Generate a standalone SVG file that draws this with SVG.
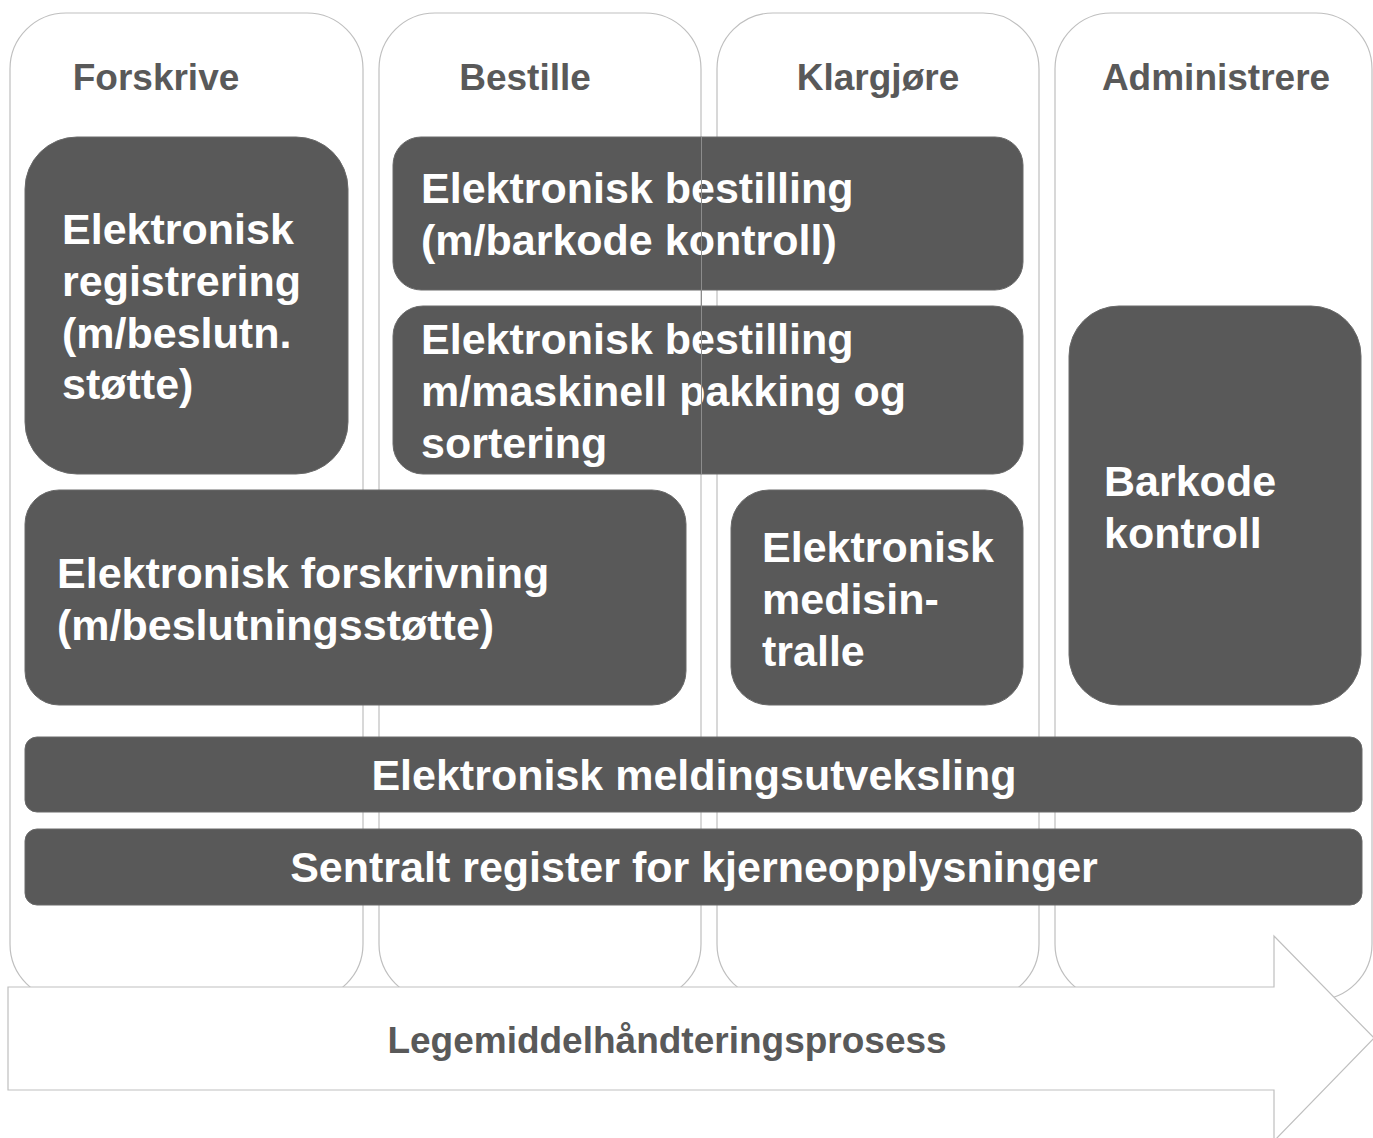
<svg xmlns="http://www.w3.org/2000/svg" width="1373" height="1138" viewBox="0 0 1373 1138">
<style>
.col{fill:#ffffff;stroke:#bfbfbf;stroke-width:1.2}
.box{fill:#595959;stroke:#6a6a6a;stroke-width:1}
.hd{font-family:"Liberation Sans",Arial,sans-serif;font-weight:bold;font-size:37px;fill:#595959}
.bt{font-family:"Liberation Sans",Arial,sans-serif;font-weight:bold;font-size:43px;fill:#ffffff}
.ar{fill:#ffffff;stroke:#bfbfbf;stroke-width:1.2}
</style>
<rect width="1373" height="1138" fill="#ffffff"/>
<g id="columns">
  <g id="col-forskrive"><rect class="col" x="10" y="13" width="353" height="987" rx="56"/><text class="hd" x="156" y="90" text-anchor="middle">Forskrive</text></g>
  <g id="col-bestille"><rect class="col" x="379" y="13" width="322" height="987" rx="56"/><text class="hd" x="525" y="90" text-anchor="middle">Bestille</text></g>
  <g id="col-klargjore"><rect class="col" x="717" y="13" width="322" height="987" rx="56"/><text class="hd" x="878" y="90" text-anchor="middle">Klargjøre</text></g>
  <g id="col-administrere"><rect class="col" x="1055" y="13" width="317" height="987" rx="56"/><text class="hd" x="1216" y="90" text-anchor="middle">Administrere</text></g>
</g>
<g id="process-arrow">
  <polygon class="ar" points="8,987 1274,987 1274,936 1374,1038 1274,1141 1274,1090 8,1090"/>
  <text class="hd" x="667" y="1053" text-anchor="middle">Legemiddelhåndteringsprosess</text>
</g>
<g id="box-registrering">
  <rect class="box" x="25" y="137" width="323" height="337" rx="52"/>
  <text class="bt" x="62" y="244">Elektronisk</text>
  <text class="bt" x="62" y="296">registrering</text>
  <text class="bt" x="62" y="348">(m/beslutn.</text>
  <text class="bt" x="62" y="399">støtte)</text>
</g>
<g id="box-bestilling-barkode">
  <rect class="box" x="393" y="137" width="630" height="153" rx="28"/>
  <text class="bt" x="421" y="203">Elektronisk bestilling</text>
  <text class="bt" x="421" y="255">(m/barkode kontroll)</text>
</g>
<g id="box-bestilling-pakking">
  <rect class="box" x="393" y="306" width="630" height="168" rx="30"/>
  <text class="bt" x="421" y="354">Elektronisk bestilling</text>
  <text class="bt" x="421" y="406">m/maskinell pakking og</text>
  <text class="bt" x="421" y="458">sortering</text>
</g>
<line x1="701.5" y1="137" x2="701.5" y2="474" stroke="#8c8c8c" stroke-width="1"/>
<g id="box-forskrivning">
  <rect class="box" x="25" y="490" width="661" height="215" rx="34"/>
  <text class="bt" x="57" y="588">Elektronisk forskrivning</text>
  <text class="bt" x="57" y="640">(m/beslutningsstøtte)</text>
</g>
<g id="box-medisintralle">
  <rect class="box" x="731" y="490" width="292" height="215" rx="38"/>
  <text class="bt" x="762" y="562">Elektronisk</text>
  <text class="bt" x="762" y="614">medisin-</text>
  <text class="bt" x="762" y="666">tralle</text>
</g>
<g id="box-barkode">
  <rect class="box" x="1069" y="306" width="292" height="399" rx="50"/>
  <text class="bt" x="1104" y="496">Barkode</text>
  <text class="bt" x="1104" y="548">kontroll</text>
</g>
<g id="box-meldingsutveksling">
  <rect class="box" x="25" y="737" width="1337" height="75" rx="12"/>
  <text class="bt" x="694" y="790" text-anchor="middle">Elektronisk meldingsutveksling</text>
</g>
<g id="box-sentralt-register">
  <rect class="box" x="25" y="829" width="1337" height="76" rx="12"/>
  <text class="bt" x="694" y="882" text-anchor="middle">Sentralt register for kjerneopplysninger</text>
</g>
<g id="connectors"></g>
</svg>
